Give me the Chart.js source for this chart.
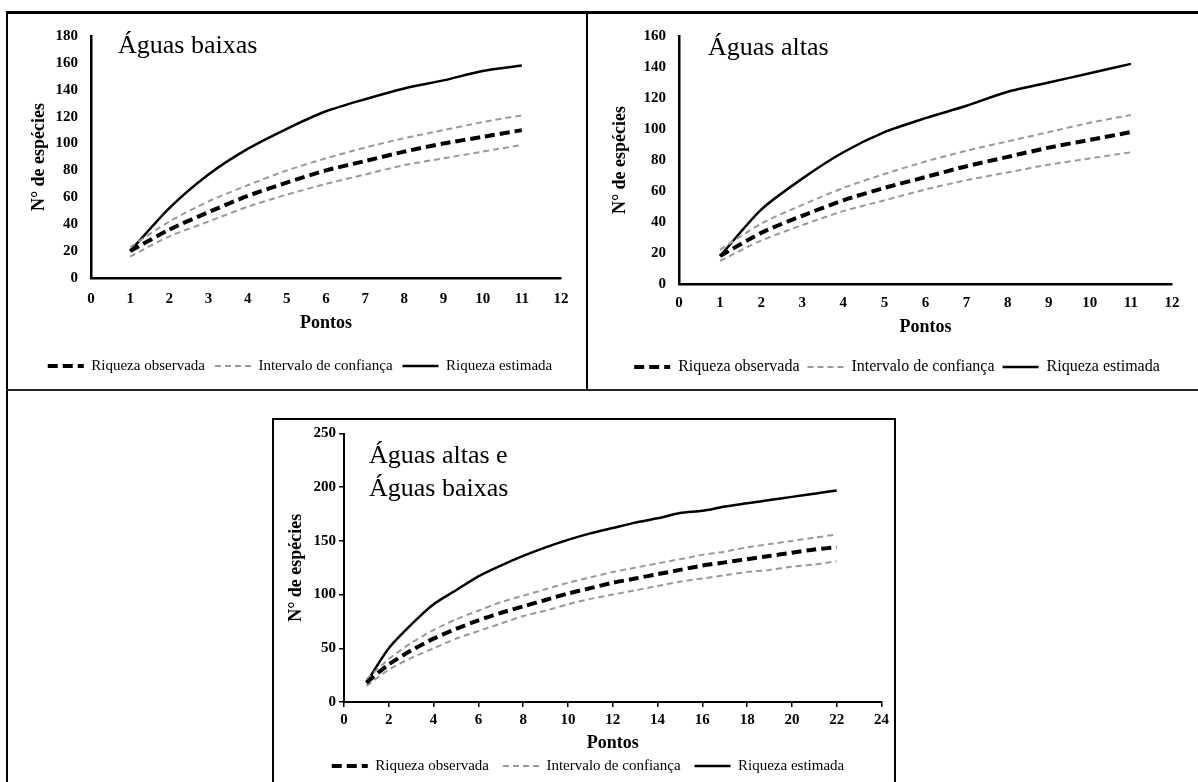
<!DOCTYPE html>
<html>
<head>
<meta charset="utf-8">
<script src="https://cdn.jsdelivr.net/npm/chart.js@4.4.0/dist/chart.umd.min.js"></script>
<style>
  body { margin: 0; width: 1198px; height: 782px; overflow: hidden; background: #fff; position: relative; }
  .rule { position: absolute; background: #000; }
  .panel { position: absolute; }
</style>
</head>
<body>
<!-- figure frames -->
<div class="rule" style="left:6px;top:11px;width:1192px;height:3px"></div>
<div class="rule" style="left:6px;top:11px;width:2px;height:771px"></div>
<div class="rule" style="left:586px;top:11px;width:2px;height:378px"></div>
<div class="rule" style="left:6px;top:389px;width:1192px;height:2px;background:#222"></div>
<div style="position:absolute;left:272px;top:418px;width:624px;height:400px;box-sizing:border-box;border:2px solid #000"></div>

<div class="panel" id="boxBaixas"><canvas id="chartBaixas"></canvas></div>
<div class="panel" id="boxAltas"><canvas id="chartAltas"></canvas></div>
<div class="panel" id="boxTotal"><canvas id="chartTotal"></canvas></div>

<script>
// Águas baixas
const pontosBaixas = [1, 2, 3, 4, 5, 6, 7, 8, 9, 10, 11];
const obsBaixas = [20, 36, 49, 61, 71, 80, 87, 94, 100, 105, 110];
const supBaixas = [23, 42, 57, 69, 80, 89, 97, 104, 110, 116, 121];
const infBaixas = [16, 31, 42, 53, 62, 70, 77, 84, 89, 94, 99];
const estBaixas = [20, 52, 77, 96, 111, 124, 133, 141, 147, 154, 158];

// Águas altas
const pontosAltas = [1, 2, 3, 4, 5, 6, 7, 8, 9, 10, 11];
const obsAltas = [18, 33, 44, 54, 62, 69, 76, 82, 88, 93, 98];
const supAltas = [22, 39, 51, 62, 71, 79, 86, 92, 98, 104, 109];
const infAltas = [15, 28, 38, 47, 54, 61, 67, 72, 77, 81, 85];
const estAltas = [18, 48, 68, 85, 98, 107, 115, 124, 130, 136, 142];

// Águas altas e Águas baixas
const pontosTotal = [1, 2, 3, 4, 5, 6, 7, 8, 9, 10, 11, 12, 13, 14, 15, 16, 17, 18, 19, 20, 21, 22];
const obsTotal = [18, 35, 48, 59, 68, 76, 83, 89, 95, 101, 106, 111, 115, 119, 123, 127, 130, 133, 136, 139, 142, 144];
const supTotal = [21, 40, 55, 67, 77, 85, 93, 99, 105, 111, 116, 121, 125, 129, 133, 137, 140, 144, 147, 150, 153, 156];
const infTotal = [15, 30, 41, 50, 59, 66, 73, 80, 85, 91, 96, 100, 104, 108, 112, 115, 118, 121, 123, 126, 128, 131];
const estTotal = [18, 50, 72, 91, 104, 117, 127, 136, 144, 151, 157, 162, 167, 171, 176, 178, 182, 185, 188, 191, 194, 197];

const legendLabels = ['Riqueza observada', 'Intervalo de confiança', 'IC inferior', 'Riqueza estimada'];

const FONT = "'Liberation Serif', 'Times New Roman', serif";
Chart.defaults.font.family = FONT;
Chart.defaults.color = '#000';

function series(xs, ys) {
    return xs.map((x, i) => ({ x: x, y: ys[i] }));
}

// text like "Águas baixas" inside the plot area
const panelLabel = {
    id: 'panelLabel',
    afterDraw(chart, args, opts) {
        if (!opts.lines) return;
        const ctx = chart.ctx;
        const a = chart.chartArea;
        ctx.save();
        ctx.font = '26px ' + FONT;
        ctx.fillStyle = '#000';
        ctx.textBaseline = 'alphabetic';
        opts.lines.forEach((t, i) => ctx.fillText(t, a.left + opts.dx, a.top + opts.dy[i]));
        ctx.restore();
    }
};

// move the legend row sideways
const legendShift = {
    id: 'legendShift',
    afterLayout(chart, args, opts) {
        const lg = chart.legend;
        if (lg && opts.dx) {
            lg.left += opts.dx;
            lg.right += opts.dx;
        }
    }
};

// legend samples keep the dash of their line
function dashedLabels(chart) {
    const items = Chart.defaults.plugins.legend.labels.generateLabels(chart);
    return items.map(it => {
        const ds = chart.data.datasets[it.datasetIndex];
        it.lineDash = ds.borderDash || [];
        it.lineWidth = ds.borderWidth;
        it.strokeStyle = ds.borderColor;
        return it;
    });
}

function makePanel(boxId, canvasId, g, s) {
    const tickSize = 15, titleSize = 18;
    const tickLH = tickSize * 1.2, titleLH = titleSize * 1.2;
    const itemH = g.legendSize;
    const legendTop = g.legendY - g.legendPad - itemH / 2;
    const legendH = itemH + g.legendPad + 10;
    const padRight = g.box.l + g.box.w - g.plot.right;
    const legendCenter = g.box.l + (g.box.w - padRight) / 2;

    const el = document.getElementById(boxId);
    el.style.left = g.box.l + 'px';
    el.style.top = g.box.t + 'px';
    el.style.width = g.box.w + 'px';
    el.style.height = g.box.h + 'px';

    const tickFont = { family: FONT, size: tickSize, weight: 'bold' };
    const titleFont = { family: FONT, size: titleSize, weight: 'bold' };
    const grid = {
        display: g.tl > 0,
        drawOnChartArea: false,
        drawTicks: g.tl > 0,
        tickLength: g.tl,
        color: '#000',
        lineWidth: 1.5
    };
    const border = { display: true, color: '#000', width: g.axisW };

    const line = { pointRadius: 0, pointHoverRadius: 0, fill: false, tension: 0.25, borderCapStyle: 'butt' };

    const data = {
        datasets: [
            Object.assign({ label: legendLabels[0], data: series(s.x, s.obs), borderColor: '#000', borderWidth: 4, borderDash: [10, 5] }, line),
            Object.assign({ label: legendLabels[1], data: series(s.x, s.sup), borderColor: '#999', borderWidth: 2, borderDash: [6, 4] }, line),
            Object.assign({ label: legendLabels[2], data: series(s.x, s.inf), borderColor: '#999', borderWidth: 2, borderDash: [6, 4] }, line),
            Object.assign({ label: legendLabels[3], data: series(s.x, s.est), borderColor: '#000', borderWidth: 2.5 }, line)
        ]
    };

    const config = {
        type: 'line',
        data: data,
        plugins: [panelLabel, legendShift],
        options: {
            responsive: true,
            maintainAspectRatio: false,
            animation: false,
            devicePixelRatio: 1,
            layout: {
                padding: {
                    left: 0,
                    top: g.plot.top - g.box.t,
                    right: padRight,
                    bottom: g.box.t + g.box.h - legendTop - legendH
                }
            },
            scales: {
                x: {
                    type: 'linear',
                    min: 0,
                    max: g.xMax,
                    ticks: { stepSize: g.xStep, padding: g.tickY - g.plot.bottom - g.tl - tickLH / 2, font: tickFont, maxRotation: 0, autoSkip: false },
                    grid: grid,
                    border: border,
                    title: { display: true, text: 'Pontos', font: titleFont, padding: { top: 0, bottom: legendTop - g.pontosY - titleLH / 2 } },
                    afterFit: sc => { sc.height = legendTop - g.plot.bottom; }
                },
                y: {
                    min: 0,
                    max: g.yMax,
                    ticks: { stepSize: g.yStep, padding: g.plot.left - g.tl - g.yLabelRight, font: tickFont },
                    grid: grid,
                    border: border,
                    title: { display: true, text: 'N° de espécies', font: titleFont, padding: { top: g.yTitleX - g.box.l - titleLH / 2, bottom: 0 } },
                    afterFit: sc => { sc.width = g.plot.left - g.box.l; }
                }
            },
            plugins: {
                tooltip: { enabled: false },
                legend: {
                    position: 'bottom',
                    labels: {
                        usePointStyle: true,
                        pointStyle: 'line',
                        pointStyleWidth: 36,
                        boxHeight: g.legendSize,
                        padding: g.legendPad,
                        color: '#000',
                        font: { family: FONT, size: g.legendSize },
                        generateLabels: dashedLabels,
                        filter: it => it.datasetIndex !== 2
                    }
                },
                legendShift: { dx: g.legendCx - legendCenter },
                panelLabel: { lines: g.label, dx: g.labelX - g.plot.left, dy: g.labelY.map(y => y - g.plot.top) }
            }
        }
    };

    return new Chart(document.getElementById(canvasId).getContext('2d'), config);
}

makePanel('boxBaixas', 'chartBaixas', {
    box: { l: 8, t: 14, w: 578, h: 374 },
    plot: { left: 91, top: 30, right: 561, bottom: 278 },
    xMax: 12, xStep: 1, yMax: 180, yStep: 20,
    tl: 0, axisW: 2.5,
    tickY: 299, pontosY: 323, legendY: 366, legendCx: 300, legendSize: 15, legendPad: 10,
    yLabelRight: 78, yTitleX: 39,
    label: ['Águas baixas'], labelX: 118, labelY: [47]
}, { x: pontosBaixas, obs: obsBaixas, sup: supBaixas, inf: infBaixas, est: estBaixas });

makePanel('boxAltas', 'chartAltas', {
    box: { l: 590, t: 14, w: 606, h: 374 },
    plot: { left: 679, top: 29, right: 1172, bottom: 284 },
    xMax: 12, xStep: 1, yMax: 160, yStep: 20,
    tl: 0, axisW: 2.5,
    tickY: 303, pontosY: 327, legendY: 367, legendCx: 897, legendSize: 16, legendPad: 8,
    yLabelRight: 666, yTitleX: 620,
    label: ['Águas altas'], labelX: 708, labelY: [48]
}, { x: pontosAltas, obs: obsAltas, sup: supAltas, inf: infAltas, est: estAltas });

makePanel('boxTotal', 'chartTotal', {
    box: { l: 276, t: 421, w: 617, h: 364 },
    plot: { left: 344, top: 433.5, right: 885, bottom: 702 },
    xMax: 24, xStep: 2, yMax: 250, yStep: 50,
    tl: 5, axisW: 2,
    tickY: 720, pontosY: 743, legendY: 766, legendCx: 588, legendSize: 15, legendPad: 14,
    yLabelRight: 336, yTitleX: 296,
    label: ['Águas altas e', 'Águas baixas'], labelX: 369, labelY: [463, 496]
}, { x: pontosTotal, obs: obsTotal, sup: supTotal, inf: infTotal, est: estTotal });
</script>
</body>
</html>
